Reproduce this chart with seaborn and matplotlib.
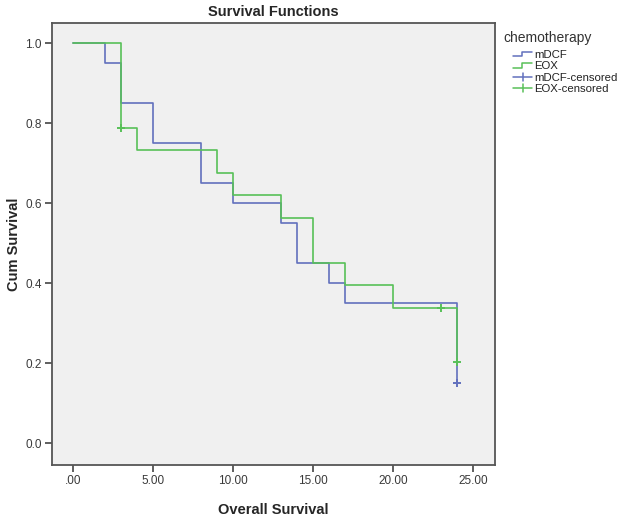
import numpy as np
import pandas as pd
import matplotlib
matplotlib.use('Agg')
import matplotlib.pyplot as plt
import seaborn as sns
from matplotlib.lines import Line2D
from matplotlib.legend_handler import HandlerBase

# Kaplan-Meier step values
mdcf_time = [0, 2, 3, 5, 8, 10, 13, 14, 16, 17, 24]
mdcf_surv = [1.0, 0.95, 0.85, 0.75, 0.65, 0.60, 0.55, 0.45, 0.40, 0.35, 0.15]
eox_time = [0, 3, 4, 9, 10, 13, 15, 17, 20, 24]
eox_surv = [1.0, 0.789, 0.733, 0.677, 0.62, 0.564, 0.451, 0.395, 0.338, 0.203]

# censored observations
mdcf_cens_time = [24]
mdcf_cens_surv = [0.15]
eox_cens_time = [3, 23, 24]
eox_cens_surv = [0.789, 0.338, 0.203]

groups = ['mDCF', 'EOX']
colors = {'mDCF': '#6270bd', 'EOX': '#58c058'}
x_ticks = [0, 5, 10, 15, 20, 25]
x_labels = ['.00', '5.00', '10.00', '15.00', '20.00', '25.00']
y_ticks = [0.0, 0.2, 0.4, 0.6, 0.8, 1.0]
y_labels = ['0.0', '0.2', '0.4', '0.6', '0.8', '1.0']

curves = pd.DataFrame({
    'time': mdcf_time + eox_time,
    'surv': mdcf_surv + eox_surv,
    'chemotherapy': ['mDCF'] * len(mdcf_time) + ['EOX'] * len(eox_time),
})
cens = pd.DataFrame({
    'time': mdcf_cens_time + eox_cens_time,
    'surv': mdcf_cens_surv + eox_cens_surv,
    'chemotherapy': ['mDCF'] * len(mdcf_cens_time) + ['EOX'] * len(eox_cens_time),
})

sns.set_style('white')
plt.rcParams['font.family'] = ['Liberation Sans', 'DejaVu Sans']

fig = plt.figure(figsize=(6.3, 5.17), dpi=100)
ax = fig.add_axes([0.082, 0.1006, 0.704, 0.8554])
ax.set_facecolor('#f0f0f0')

sns.lineplot(data=curves, x='time', y='surv', hue='chemotherapy', palette=colors,
             hue_order=groups, estimator=None, sort=False, drawstyle='steps-post',
             linewidth=1.2, legend=False, ax=ax)
for g in groups:
    sub = cens[cens['chemotherapy'] == g]
    ax.plot(sub['time'], sub['surv'], linestyle='none', marker='+',
            markersize=6, markeredgewidth=1.4, color=colors[g], zorder=5)

ax.set_xlim(-1.35, 26.39)
ax.set_ylim(-0.054, 1.0515)
ax.set_xticks(x_ticks)
ax.set_xticklabels(x_labels)
ax.set_yticks(y_ticks)
ax.set_yticklabels(y_labels)
ax.tick_params(axis='both', direction='out', length=5, width=1.2, color='#444444',
               labelsize=8.5, labelcolor='#3a3a3a', pad=2, left=True, bottom=True)
for s in ax.spines.values():
    s.set_color('#555555')
    s.set_linewidth(1.3)

ax.set_xlabel('Overall Survival', fontsize=10.5, fontweight='bold', labelpad=12)
ax.set_ylabel('Cum Survival', fontsize=10.5, fontweight='bold', labelpad=3)
ax.set_title('Survival Functions', fontsize=10.5, fontweight='bold', pad=5)


class StepHandler(HandlerBase):
    def create_artists(self, legend, orig_handle, xdescent, ydescent, width, height,
                       fontsize, trans):
        c = orig_handle.get_color()
        xs = [0, width * 0.45, width * 0.45, width]
        ys = [height * 0.2, height * 0.2, height * 0.8, height * 0.8]
        ln = Line2D([x - xdescent for x in xs], [y - ydescent for y in ys],
                    color=c, linewidth=1.1, transform=trans)
        return [ln]


class CrossHandler(HandlerBase):
    def create_artists(self, legend, orig_handle, xdescent, ydescent, width, height,
                       fontsize, trans):
        c = orig_handle.get_color()
        h = Line2D([-xdescent, width - xdescent], [height / 2 - ydescent] * 2,
                   color=c, linewidth=1.1, transform=trans)
        v = Line2D([width / 2 - xdescent] * 2, [-ydescent, height - ydescent],
                   color=c, linewidth=1.1, transform=trans)
        return [h, v]


class CensMark(Line2D):
    pass


handles = [Line2D([], [], color=colors['mDCF']), Line2D([], [], color=colors['EOX']),
           CensMark([], [], color=colors['mDCF']), CensMark([], [], color=colors['EOX'])]
labels = ['mDCF', 'EOX', 'mDCF-censored', 'EOX-censored']
hmap = {handles[0]: StepHandler(), handles[1]: StepHandler(),
        handles[2]: CrossHandler(), handles[3]: CrossHandler()}

fig.text(503 / 630, 1 - 38 / 517, 'chemotherapy', fontsize=10, color='#333333',
         ha='left', va='center')
leg = fig.legend(handles, labels, handler_map=hmap,
                 loc='upper left', bbox_to_anchor=(513 / 630, 1 - 50 / 517), frameon=False,
                 fontsize=8.2, handlelength=1.7, handletextpad=0.15,
                 labelspacing=0.12, borderpad=0.0, borderaxespad=0.0)
for t in leg.get_texts():
    t.set_color('#222222')

plt.savefig('out.png', dpi=100)
